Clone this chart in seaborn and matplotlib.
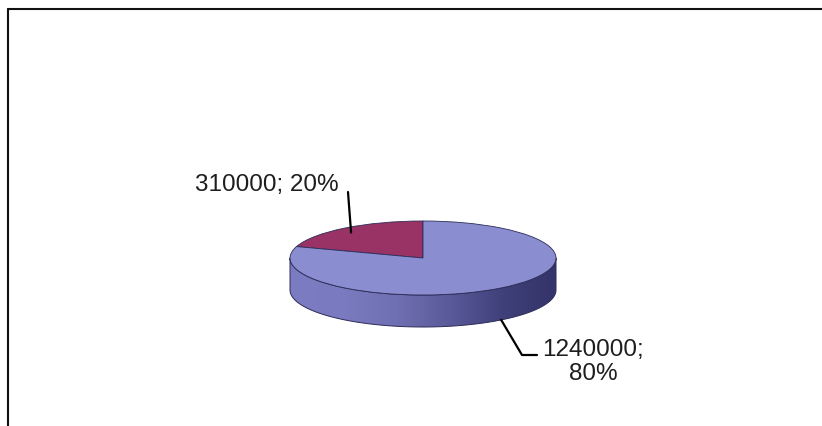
import numpy as np
import matplotlib
matplotlib.use("Agg")
import matplotlib.pyplot as plt
from matplotlib.lines import Line2D
from matplotlib.patches import Polygon
from matplotlib.colors import LinearSegmentedColormap
import seaborn as sns

# Values shown in the pie
categories = ["A", "B"]
values = [310000, 1240000]
slice_colors = ["#993366", "#8a8dd0"]

sns.set_theme(style="white")
plt.rcParams["font.family"] = ["Liberation Sans", "DejaVu Sans"]

W, H = 822, 426
fig = plt.figure(figsize=(W / 100, H / 100), dpi=100)
ax = fig.add_axes([0, 0, 1, 1])

# Pie geometry in pixels: centre, radii and thickness of the disc
cx, cy = 423, 258
rx, ry = 133, 37
depth = 32 / ry

ax.set_xlim(-cx / rx, (W - cx) / rx)
ax.set_ylim(-(H - cy) / ry, cy / ry)
ax.set_aspect("auto")
ax.axis("off")

total = sum(values)
fracs = [v / total for v in values]

# Front rim of the disc (lower half of the ellipse, extruded downward)
th = np.linspace(np.pi, 2 * np.pi, 200)
top_edge = np.column_stack([np.cos(th), np.sin(th)])
bot_edge = np.column_stack([np.cos(th[::-1]), np.sin(th[::-1]) - depth])
rim = Polygon(np.vstack([top_edge, bot_edge]), closed=True,
              facecolor="none", edgecolor="#2c2c58", lw=0.7, zorder=3)
ax.add_patch(rim)
rim_cmap = LinearSegmentedColormap.from_list(
    "rim", ["#7c7cc2", "#7a7ac0", "#6f6fb3", "#5a5a9a", "#40407a", "#34346a"])
grad = np.linspace(0, 1, 256).reshape(1, -1)
img = ax.imshow(grad, cmap=rim_cmap, extent=[-1, 1, -1 - depth, 0],
                aspect="auto", zorder=2, interpolation="bilinear")
img.set_clip_path(rim)

# Top face of the disc
wedges, _ = ax.pie(values, colors=slice_colors, startangle=90,
                   counterclock=True, radius=1,
                   wedgeprops=dict(edgecolor="#2c2c58", linewidth=0.6))
for w in wedges:
    w.set_zorder(4)
ax.set_xlim(-cx / rx, (W - cx) / rx)
ax.set_ylim(-(H - cy) / ry, cy / ry)
ax.set_aspect("auto")
ax.axis("off")

def mid_angle(w):
    return np.deg2rad((w.theta1 + w.theta2) / 2)

def px(x, y):
    return (x - cx) / rx, (cy - y) / ry

text_kw = dict(fontsize=17.5, color="#1e1e1e", zorder=6)
line_kw = dict(color="black", lw=1.6, zorder=5)

# Label for the small slice, leader line landing on its top face
a0 = mid_angle(wedges[0])
p0 = (0.92 * np.cos(a0), 0.85 * np.sin(a0))
pct0 = round(fracs[0] * 100)
t0x, t0y = px(195, 185)
ax.text(t0x, t0y, f"{values[0]}; {pct0}%", ha="left", va="center", **text_kw)
k0x, k0y = px(348, 192)
ax.plot([k0x, p0[0]], [k0y, p0[1]], **line_kw)

# Label for the large slice, leader line from the front rim
a1 = mid_angle(wedges[1])
p1 = (np.cos(a1), np.sin(a1) - depth)
pct1 = round(fracs[1] * 100)
e1x, e1y = px(522, 355)
h1x, _ = px(537, 355)
ax.plot([p1[0], e1x, h1x], [p1[1], e1y, e1y], **line_kw)
t1x, t1y = px(593, 362)
ax.text(t1x, t1y, f"{values[1]};\n{pct1}%", ha="center", va="center",
        multialignment="center", linespacing=1.15, **text_kw)

# Chart border (top and left edges)
fig.add_artist(Line2D([8 / W, 1], [1 - 9 / H, 1 - 9 / H],
                      transform=fig.transFigure, color="#111111", lw=1.5))
fig.add_artist(Line2D([8 / W, 8 / W], [0, 1 - 9 / H],
                      transform=fig.transFigure, color="#111111", lw=1.5))

fig.savefig("out.png", dpi=100)
